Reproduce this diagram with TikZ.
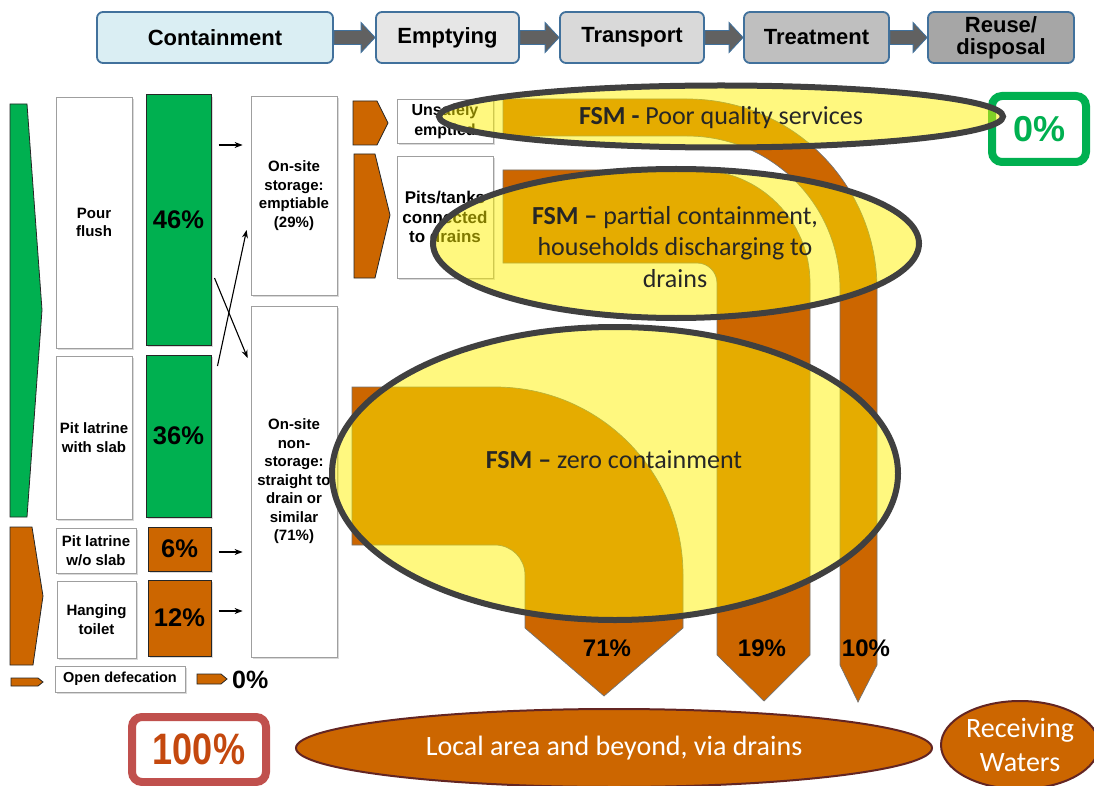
\documentclass[tikz,border=0pt]{standalone}
\usepackage{fontspec}
\setmainfont{Liberation Sans}
\newfontfamily\calib{Carlito}
\usepackage{graphicx}
\usetikzlibrary{calc,shadows,arrows.meta,shapes.geometric}
\definecolor{fgreen}{HTML}{00B050}
\definecolor{forange}{HTML}{CC6600}
\definecolor{frame}{HTML}{41719C}
\definecolor{ering}{HTML}{404040}
\definecolor{brownline}{HTML}{632523}
\definecolor{redbox}{HTML}{C0504D}
\definecolor{redtext}{HTML}{C4480E}
\definecolor{txt}{HTML}{262626}
\definecolor{contfill}{HTML}{DAEEF3}
\definecolor{emptfill}{HTML}{E6E6E6}
\definecolor{transfill}{HTML}{D9D9D9}
\definecolor{treatfill}{HTML}{BFBFBF}
\definecolor{reusefill}{HTML}{A6A6A6}
\newcommand{\fsz}[2]{\fontsize{#1}{#2}\selectfont}
\begin{document}
\begin{tikzpicture}[x=1pt,y=-1pt,
  topbox/.style={draw=frame, line width=1.8pt, rounded corners=6pt, font=\bfseries\fsz{22}{22}, inner sep=0pt, align=center},
  blockarrow/.style={fill=black!62, draw=frame, line width=0.8pt},
  shad/.style={drop shadow={shadow xshift=2pt, shadow yshift=-2pt, opacity=0.3}},
  wbox/.style={draw=gray!75, fill=white, line width=0.8pt, inner sep=1pt, align=center, font=\bfseries\fsz{15}{18.5}, shad},
  wboxb/.style={wbox, font=\bfseries\fsz{17}{19.5}},
  gbox/.style={draw=black!85, fill=fgreen, line width=1pt, inner sep=0pt, font=\bfseries\fsz{25.5}{28}, shad},
  obox/.style={gbox, fill=forange},
  chev/.style={draw=black!85, line width=0.8pt},
  arr/.style={-{Stealth[length=8pt,width=6pt]}, line width=1.1pt},
  band/.style={fill=forange, draw=black!55, line width=0.7pt},
  fsm/.style={ellipse, draw=ering, line width=6pt, fill=yellow, fill opacity=0.5, inner sep=0pt},
  fsmtext/.style={font=\calib\fsz{26}{31.5}, text=txt, align=center},
  pct/.style={font=\bfseries\fsz{24}{26}},
  sink/.style={ellipse, draw=brownline, line width=2pt, fill=forange, inner sep=0pt, text=white, font=\calib\fsz{28}{34}, align=center}
]
\useasboundingbox (0,0) rectangle (1094,786);

% ---------- top process bar ----------
\node[topbox, fill=contfill, minimum width=236pt, minimum height=51pt] (cont) at (215,37.5) {Containment};
\node[topbox, fill=emptfill, minimum width=143pt, minimum height=51pt] (empt) at (447.5,37.5) {Emptying};
\node[topbox, fill=transfill, minimum width=144pt, minimum height=51pt] (trans) at (632,37.5) {Transport};
\node[topbox, fill=treatfill, minimum width=145pt, minimum height=51pt] (treat) at (816.5,37.5) {Treatment};
\node[topbox, fill=reusefill, minimum width=146pt, minimum height=51pt] (reuse) at (1001,37.5) {Reuse/\\disposal};
\foreach \a/\b in {cont/empt, empt/trans, trans/treat, treat/reuse}{
  \draw[blockarrow] ($(\a.east)+(0,-7)$) -- ($(\b.west)+(-14,-7)$) -- ($(\b.west)+(-14,-15)$) -- (\b.west)
     -- ($(\b.west)+(-14,15)$) -- ($(\b.west)+(-14,7)$) -- ($(\a.east)+(0,7)$) -- cycle;
}

% ---------- left column ----------
\draw[chev, fill=fgreen] (10,104) -- (27,104) -- (42,310) -- (27,517) -- (10,517) -- cycle;
\draw[chev, fill=forange] (10,527) -- (32,527) -- (43,596) -- (33,665) -- (10,665) -- cycle;
\draw[chev, fill=forange] (11,678) -- (38,678) -- (43,682) -- (38,686) -- (11,686) -- cycle;

\node[wbox, minimum width=76pt, minimum height=251pt] (pour) at (94,222.5) {Pour\\flush};
\node[gbox, minimum width=65pt, minimum height=250pt] (g46) at (178.5,220) {46\%};
\node[wbox, minimum width=76pt, minimum height=163pt] (pit) at (94,437.5) {Pit latrine\\with slab};
\node[gbox, minimum width=65pt, minimum height=162pt] (g36) at (178.5,436) {36\%};
\node[wbox, minimum width=80pt, minimum height=45pt] (wo) at (96,550.5) {Pit latrine\\w/o slab};
\node[obox, minimum width=63pt, minimum height=44pt] (o6) at (179.5,549) {6\%};
\node[wbox, minimum width=79pt, minimum height=77pt] (hang) at (96.5,619.5) {Hanging\\toilet};
\node[obox, minimum width=63pt, minimum height=76pt] (o12) at (179.5,618) {12\%};
\node[wbox, minimum width=130pt, minimum height=26pt, font=\bfseries\fsz{14.5}{16}] (opend) at (120,679) {Open defecation};
\draw[chev, fill=forange] (197,674) -- (221,674) -- (227,679) -- (221,684) -- (197,684) -- cycle;
\node[pct, anchor=west, inner sep=0pt, font=\bfseries\fsz{25}{26}] (od0) at (232,680) {0\%};

\node[wbox, minimum width=86pt, minimum height=199pt] (st) at (294,195.5) {On-site\\storage:\\emptiable\\(29\%)};
\node[wbox, minimum width=86pt, minimum height=351pt] (nst) at (294,481.5) {On-site\\non-\\storage:\\straight to\\drain or\\similar\\(71\%)};

\draw[arr] ($(g46.east |- 0,145)+(7,0)$) -- ($(st.west |- 0,145)+(-8,0)$);
\draw[arr] ($(g46.east |- 0,278)+(3,0)$) -- ($(nst.west |- 0,358)+(-3,0)$);
\draw[arr] ($(g36.east |- 0,366)+(6,0)$) -- ($(st.west |- 0,230)+(-4,0)$);
\draw[arr] ($(o6.east |- 0,552)+(7,0)$) -- ($(nst.west |- 0,552)+(-8,0)$);
\draw[arr] ($(o12.east |- 0,611)+(7,0)$) -- ($(nst.west |- 0,611)+(-8,0)$);

% ---------- emptying column ----------
\draw[chev, fill=forange] (353,101) -- (377,101) -- (388,123) -- (377,145) -- (353,145) -- cycle;
\draw[chev, fill=forange] (354,154) -- (375,154) -- (390,215) -- (375,278) -- (354,278) -- cycle;
\node[wboxb, minimum width=96pt, minimum height=44pt, font=\bfseries\fsz{16}{20}] (unsafe) at (445,121) {Unsafely\\emptied};
\node[wboxb, minimum width=96pt, minimum height=122pt] (pits) at (445,217) {Pits/tanks\\connected\\to drains};

% ---------- flow bands ----------
\draw[band] (503,99) -- (687,99) arc[start angle=-90, end angle=0, radius=190]
  -- (877,665) -- (858,702) -- (840,665) -- (840,289)
  arc[start angle=0, end angle=-90, radius=153] -- (503,136) -- cycle;
\draw[band] (503,170) -- (697,170) arc[start angle=-90, end angle=0, radius=113]
  -- (810,655) -- (764,701) -- (717,655) -- (717,283)
  arc[start angle=0, end angle=-90, radius=20] -- (503,263) -- cycle;
\draw[band] (352,387) -- (495,387) arc[start angle=-90, end angle=0, radius=188]
  -- (683,628) -- (604,696) -- (525,628) -- (525,575)
  arc[start angle=0, end angle=-90, radius=30] -- (352,545) -- cycle;

% ---------- result boxes ----------
\node[draw=fgreen, line width=8pt, rounded corners=10pt, fill=white, minimum width=94pt, minimum height=66pt,
      text=fgreen, font=\bfseries\fsz{36}{40}, inner sep=0pt] (zero) at (1039,129) {0\%};
\node[draw=redbox, line width=8pt, rounded corners=10pt, fill=white, minimum width=134pt, minimum height=65pt,
      text=redtext, font=\bfseries\fsz{44}{46}, inner sep=0pt] (hundred) at (199,749.5) {\scalebox{0.82}[1]{100\%}};

% ---------- FSM ellipses ----------
\node[fsm, minimum width=564pt, minimum height=62pt] (e1) at (721,116.5) {};
\node[fsm, minimum width=486pt, minimum height=149pt] (e2) at (676,243.5) {};
\node[fsm, minimum width=566pt, minimum height=293pt] (e3) at (615,473.5) {};
\node[fsmtext] (t1) at (721,118) {{\bfseries FSM -} Poor quality services};
\node[fsmtext] (t2) at (675,247) {{\bfseries FSM –} partial containment,\\households discharging to\\drains};
\node[fsmtext] (t3) at (614,460) {{\bfseries FSM –} zero containment};

% ---------- percentages ----------
\node[pct] (p71) at (607,648) {71\%};
\node[pct] (p19) at (762,648) {19\%};
\node[pct] (p10) at (866,648) {10\%};

% ---------- sinks ----------
\node[sink, minimum width=636pt, minimum height=78pt] (local) at (614,748) {Local area and beyond, via drains};
\node[sink, minimum width=158pt, minimum height=88pt] (recv) at (1020,745) {Receiving\\Waters};
\end{tikzpicture}
\end{document}
